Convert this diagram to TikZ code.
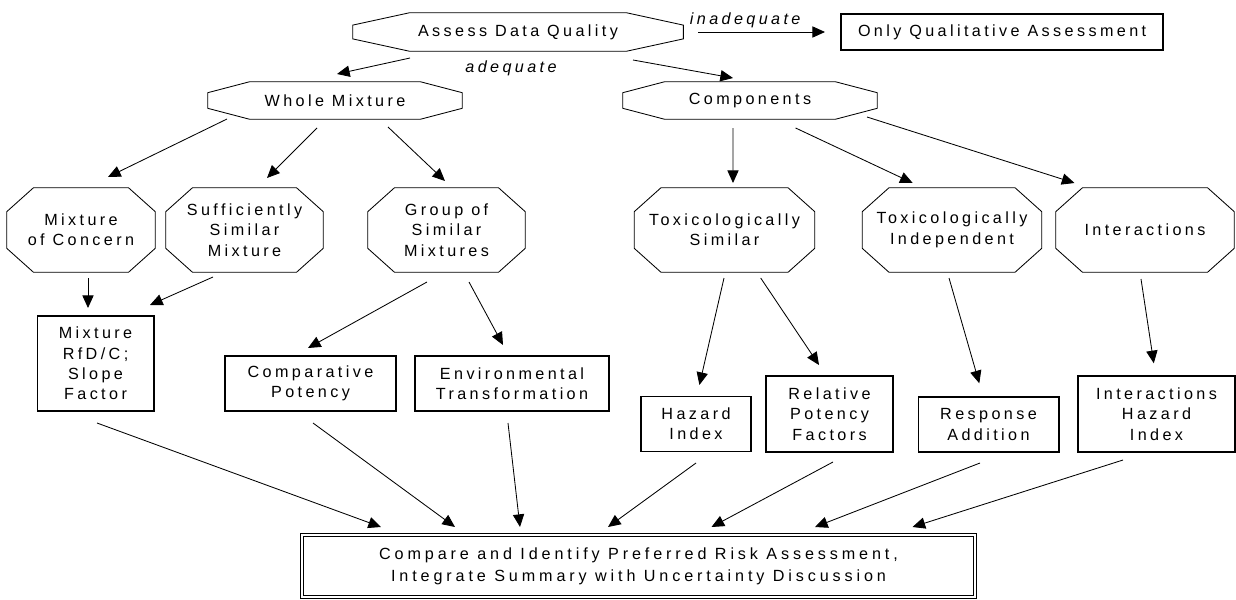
\documentclass[tikz,border=0pt]{standalone}
\usepackage{fontspec}
\newfontfamily\diagfont[LetterSpace=21]{Liberation Sans}
\usetikzlibrary{arrows.meta}

\begin{document}
\begin{tikzpicture}[x=0.025cm,y=-0.025cm,
   every node/.style={font=\diagfont\fontsize{11.5}{14.5}\selectfont,align=center,inner sep=0pt},
   oct/.style 2 args={append after command={\pgfextra{\draw[line width=0.6pt]
      ([xshift=#1]\tikzlastnode.north west) -- ([xshift=-#1]\tikzlastnode.north east)
      -- ([yshift=-#2]\tikzlastnode.north east) -- ([yshift=#2]\tikzlastnode.south east)
      -- ([xshift=-#1]\tikzlastnode.south east) -- ([xshift=#1]\tikzlastnode.south west)
      -- ([yshift=#2]\tikzlastnode.south west) -- ([yshift=-#2]\tikzlastnode.north west) -- cycle;}}},
   box/.style={draw,line width=1.4pt},
   arr/.style={line width=0.6pt,-{Triangle[length=9pt,width=8pt]}},
   lbl/.style={font=\diagfont\itshape\fontsize{11.5}{14.5}\selectfont}]
\useasboundingbox (0,0) rectangle (1236,599);
% top
\node[oct={1.425cm}{0.31cm},minimum width=8.25cm,minimum height=0.95cm] (aq) at (518,32) {Assess Data Quality};
\node[box,anchor=west,inner xsep=0.425cm,minimum height=0.9cm] (oqa) at (840,32) {Only Qualitative Assessment};
\node[lbl] (adq) at (511,68) {adequate};
\node[oct={1.05cm}{0.275cm},minimum width=6.35cm,minimum height=0.925cm] (wm) at (335,100.5) {Whole Mixture};
\node[oct={1.05cm}{0.275cm},minimum width=6.35cm,minimum height=0.925cm] (comp) at (750,100.5) {Components};
% second row
\foreach \n/\x/\w/\t in {moc/81/3.7/{Mixture\\of Concern},
      ssm/244.5/3.925/{Sufficiently\\Similar\\Mixture},
      gsm/446.5/3.925/{Group of\\Similar\\Mixtures},
      ts/724.5/4.5/{Toxicologically\\Similar},
      tind/952/4.475/{Toxicologically\\Independent},
      int/1145/4.45/{Interactions}}
   \node[oct={0.67cm}{0.6cm},minimum width=\w cm,minimum height=2.1cm] (\n) at (\x,230) {\t};
% third row
\node[box,minimum width=2.9cm,minimum height=2.375cm] (mrfd) at (95.5,363.5) {Mixture\\RfD/C;\\Slope\\Factor};
\node[box,minimum width=4.275cm,minimum height=1.375cm] (cpot) at (310.5,383.5) {Comparative\\Potency};
\node[box,minimum width=4.85cm,minimum height=1.375cm] (envt) at (512,383.5) {Environmental\\Transformation};
\node[box,minimum width=2.75cm,minimum height=1.375cm] (hi) at (696,424) {Hazard\\Index};
\node[box,minimum width=3.175cm,minimum height=1.9cm] (rpf) at (829.5,414) {Relative\\Potency\\Factors};
\node[box,minimum width=3.5cm,minimum height=1.375cm] (ra) at (988.5,424.5) {Response\\Addition};
\node[box,minimum width=3.925cm,minimum height=1.9cm] (ihi) at (1156.5,414) {Interactions\\Hazard\\Index};
% bottom
\node[box,line width=0.9pt,double,double distance=1.6pt,minimum width=16.825cm,minimum height=1.55cm,
   font=\diagfont\addfontfeature{LetterSpace=24}\fontsize{11.5}{15.5}\selectfont] (fin) at (638.5,566)
   {Compare and Identify Preferred Risk Assessment,\\Integrate Summary with Uncertainty Discussion};
% arrows
\draw[arr] ([shift={(-108,26)}]aq.center) -- ([shift={(2,-26.5)}]wm.center);
\draw[arr] ([shift={(115,28)}]aq.center) -- ([shift={(-17,-22.5)}]comp.center);
\draw[arr] ([xshift=0.375cm]aq.east) -- node[lbl,pos=.37,above=3pt] {inadequate} ([xshift=-0.375cm]oqa.west);
\foreach \a/\sx/\sy/\b/\ex/\ey in {wm/-108/18.5/moc/27/-53, wm/-18/27.5/ssm/22.5/-52, wm/53/26.5/gsm/-1.5/-49,
      comp/-17/27.5/ts/8.5/-47, comp/45.6/27.5/tind/-39.3/-47, comp/117/16.5/int/-70.5/-47,
      moc/7/48/mrfd/-7.5/-55.5, ssm/-31.5/47/mrfd/54.5/-58.5,
      gsm/-19.5/52/cpot/-2.5/-35.5, gsm/22.5/52/envt/-9/-38.5,
      ts/-0.5/48/hi/3.4/-39, ts/36.2/48/rpf/-10.5/-49,
      tind/-3/48/ra/-9.2/-41.2, int/-4/49/ihi/-2.7/-50.7}
   \draw[arr] ([shift={(\sx,\sy)}]\a.center) -- ([shift={(\ex,\ey)}]\b.center);
\foreach \a/\sx/\sy/\ex in {mrfd/1.5/59.5/-257.5, cpot/2.5/39.5/-183.5, envt/-4/39.5/-118.5,
      hi/0/39/-30.5, rpf/3.5/48/73, ra/-8.5/38.5/176.5, ihi/-33.5/46/274}
   \draw[arr] ([shift={(\sx,\sy)}]\a.center) -- ([shift={(\ex,-39)}]fin.center);
\end{tikzpicture}
\end{document}
